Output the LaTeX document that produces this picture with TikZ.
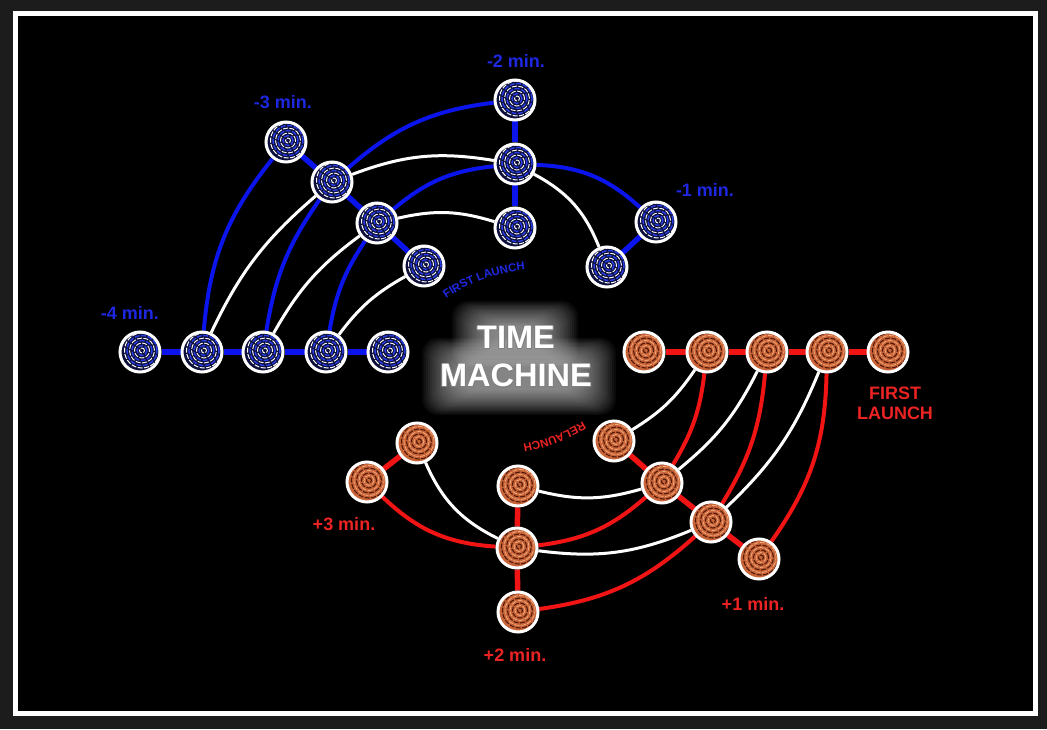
\documentclass[tikz,border=0pt]{standalone}
\usepackage{fontspec}
\setmainfont{Liberation Sans}
\usepackage{contour}
\contourlength{0.7pt}
\usetikzlibrary{decorations.text}
\definecolor{bgout}{RGB}{28,28,28}
\definecolor{bline}{RGB}{10,20,235}
\definecolor{btext}{RGB}{30,40,225}
\definecolor{rline}{RGB}{240,20,20}
\definecolor{rtext}{RGB}{235,35,35}
\definecolor{bfill}{RGB}{14,16,60}
\definecolor{bswirl}{RGB}{40,60,230}
\definecolor{rfill}{RGB}{200,100,55}
\definecolor{rdark}{RGB}{80,25,10}
\definecolor{rlight}{RGB}{245,175,130}
\pgfdeclarelayer{back}
\pgfdeclarelayer{edges}
\pgfsetlayers{back,edges,main}
\tikzset{
  bnode/.style={circle, draw=white, line width=3pt, minimum size=40pt, inner sep=0pt, fill=bfill,
    path picture={
      \foreach \r/\c/\w in {2.5/white/0.9, 5/bswirl/1.4, 7.5/white/0.9, 10/bswirl/1.4, 12.5/white/0.9, 15/bswirl/1.4, 17.5/white/1.0}
        \draw[\c, line width=\w pt, dash pattern=on 5pt off 1.5pt] ([shift={(2,1.5)}]path picture bounding box.center) circle[radius=\r];
    }},
  rnode/.style={circle, draw=white, line width=3pt, minimum size=40pt, inner sep=0pt, fill=rfill,
    path picture={
      \foreach \r/\c/\w in {2.5/rdark/1.1, 5/rlight/0.7, 7.5/rdark/1.1, 10/rlight/0.7, 12.5/rdark/1.1, 15/rlight/0.7, 17.5/rdark/1.1}
        \draw[\c, line width=\w pt, dash pattern=on 5pt off 1.5pt] ([shift={(2,1.5)}]path picture bounding box.center) circle[radius=\r];
    }},
  bchain/.style={bline, line width=5.5pt},
  bcurve/.style={bline, line width=4pt},
  wcurve/.style={white, line width=3pt},
  rchain/.style={rline, line width=5.5pt},
  rcurve/.style={rline, line width=4pt},
  blab/.style={text=btext, font=\bfseries\fontsize{18}{20}\selectfont, inner sep=0pt},
  rlab/.style={text=rtext, font=\bfseries\fontsize{18}{20}\selectfont, inner sep=0pt, align=center},
  titletext/.style={text=white, font=\bfseries\fontsize{32.5}{34}\selectfont, inner sep=0pt},
}
\begin{document}
\begin{tikzpicture}[x=1pt, y=1pt]
\begin{pgfonlayer}{back}
\useasboundingbox (0,0) rectangle (1047,729);
\fill[bgout] (0,0) rectangle (1047,729);
\fill[white] (13,13) rectangle (1038,718);
\fill[black] (18,18) rectangle (1033,713);
% glow behind title
\foreach \i in {0,...,19} {
  \fill[white, opacity=0.04, rounded corners=16pt] ({452+\i*2}, {362+\i*1.3}) rectangle ({578-\i*2}, {428-\i*1.3});
  \fill[white, opacity=0.04, rounded corners=16pt] ({422+\i*2}, {314+\i*1.3}) rectangle ({616-\i*2}, {391-\i*1.3});
}
\end{pgfonlayer}

% blue nodes
\node[bnode] (B4a) at (140,377) {};
\node[bnode] (B4b) at (202,377) {};
\node[bnode] (B4c) at (263,377) {};
\node[bnode] (B4d) at (326,377) {};
\node[bnode] (B4e) at (388,377) {};
\node[bnode] (B3a) at (286,587) {};
\node[bnode] (B3b) at (332,547) {};
\node[bnode] (B3c) at (377,506) {};
\node[bnode] (B3d) at (424,463) {};
\node[bnode] (B2a) at (515,629) {};
\node[bnode] (B2b) at (515,565) {};
\node[bnode] (B2c) at (515,501) {};
\node[bnode] (B1a) at (656,507) {};
\node[bnode] (B1b) at (607,462) {};

% red nodes
\node[rnode] (R0a) at (644,377) {};
\node[rnode] (R0b) at (707,377) {};
\node[rnode] (R0c) at (767,377) {};
\node[rnode] (R0d) at (827,377) {};
\node[rnode] (R0e) at (888,377) {};
\node[rnode] (R1a) at (614,288) {};
\node[rnode] (R1b) at (662,246) {};
\node[rnode] (R1c) at (711,207) {};
\node[rnode] (R1d) at (759,170) {};
\node[rnode] (R2a) at (518,243) {};
\node[rnode] (R2b) at (517,181) {};
\node[rnode] (R2c) at (518,117) {};
\node[rnode] (R3a) at (417,286) {};
\node[rnode] (R3b) at (367,247) {};

\begin{pgfonlayer}{edges}
% blue chains
\draw[bchain] (B4a) -- (B4b) -- (B4c) -- (B4d) -- (B4e);
\draw[bchain] (B3a) -- (B3b) -- (B3c) -- (B3d);
\draw[bchain] (B2a) -- (B2b) -- (B2c);
\draw[bchain] (B1a) -- (B1b);
% blue arcs
\draw[bcurve] (B4b) to[bend left=17] (B3a);
\draw[wcurve] (B4b) to[bend left=12] (B3b);
\draw[bcurve] (B4c) to[bend left=13] (B3b);
\draw[wcurve] (B4c) to[bend left=12] (B3c);
\draw[bcurve] (B4d) to[bend left=12] (B3c);
\draw[wcurve] (B4d) to[bend left=12] (B3d);
\draw[bcurve] (B3b) to[bend left=17] (B2a);
\draw[wcurve] (B3b) to[bend left=15] (B2b);
\draw[bcurve] (B3c) to[bend left=17] (B2b);
\draw[wcurve] (B3c) to[bend left=15] (B2c);
\draw[bcurve] (B2b) to[bend left=20] (B1a);
\draw[wcurve] (B2b) to[bend left=20] (B1b);
% red chains
\draw[rchain] (R0a) -- (R0b) -- (R0c) -- (R0d) -- (R0e);
\draw[rchain] (R1a) -- (R1b) -- (R1c) -- (R1d);
\draw[rchain] (R2a) -- (R2b) -- (R2c);
\draw[rchain] (R3a) -- (R3b);
% red arcs
\draw[rcurve] (R0d) to[bend left=17] (R1d);
\draw[wcurve] (R0d) to[bend left=12] (R1c);
\draw[rcurve] (R0c) to[bend left=13] (R1c);
\draw[wcurve] (R0c) to[bend left=12] (R1b);
\draw[rcurve] (R0b) to[bend left=12] (R1b);
\draw[wcurve] (R0b) to[bend left=12] (R1a);
\draw[rcurve] (R1c) to[bend left=17] (R2c);
\draw[wcurve] (R1c) to[bend left=15] (R2b);
\draw[rcurve] (R1b) to[bend left=17] (R2b);
\draw[wcurve] (R1b) to[bend left=15] (R2a);
\draw[rcurve] (R2b) to[bend left=20] (R3b);
\draw[wcurve] (R2b) to[bend left=20] (R3a);
\end{pgfonlayer}

% labels
\node[blab] (L4) at (130,416) {-4 min.};
\node[blab] (L3) at (283,627) {-3 min.};
\node[blab] (L2) at (516,668) {-2 min.};
\node[blab] (L1) at (705,539) {-1 min.};
\node[rlab] (P3) at (344,205) {+3 min.};
\node[rlab] (P2) at (515,74) {+2 min.};
\node[rlab] (P1) at (753,125) {+1 min.};
\node[rlab] (FL) at (895,326) {FIRST\\LAUNCH};

% curved small labels
\coordinate (fc) at (542,290);
\path[decorate, decoration={text along path, text align=center,
  text={|\bfseries\fontsize{11.5}{12}\selectfont\color{btext}|FIRST LAUNCH}}]
  (fc) ++(135:170) arc[start angle=135, end angle=85, radius=170];
\coordinate (rc) at (493,452);
\path[decorate, decoration={text along path, text align=center,
  text={|\bfseries\fontsize{11.5}{12}\selectfont\color{rtext}|RELAUNCH}}]
  (rc) ++(320:170) arc[start angle=320, end angle=262, radius=170];

% title
\node[titletext] (T1) at (516,391) {\contour{gray}{TIME}};
\node[titletext] (T2) at (516,353) {\contour{gray}{MACHINE}};
\end{tikzpicture}
\end{document}
